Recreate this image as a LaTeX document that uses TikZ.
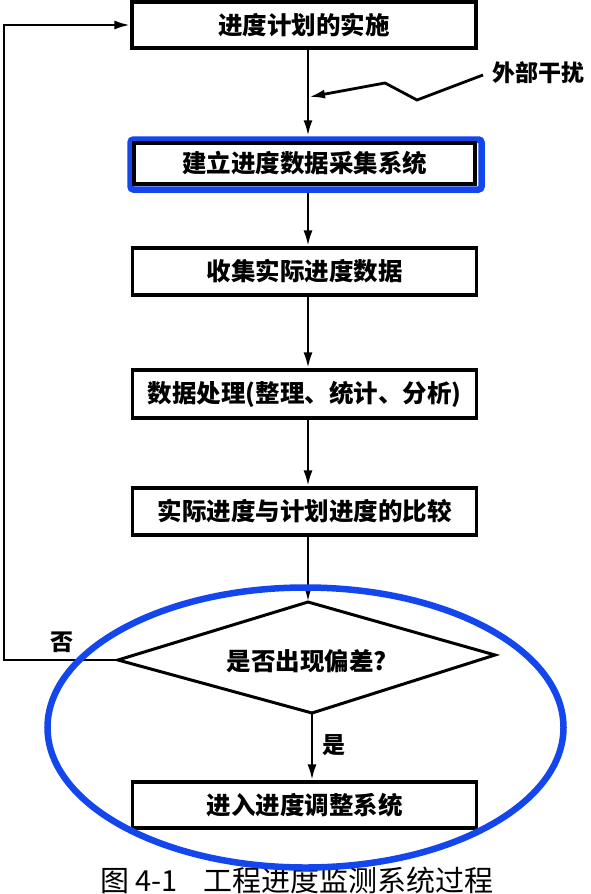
\documentclass[tikz,border=0pt]{standalone}
\usepackage{fontspec}
\setmainfont{Noto Sans CJK SC}
\usetikzlibrary{arrows.meta,shapes.geometric}
\definecolor{hlblue}{RGB}{20,70,238}
\begin{document}
\begin{tikzpicture}[x=1pt,y=-1pt,
  box/.style={draw, line width=3.2pt, minimum width=344pt, minimum height=46pt, inner sep=0pt,
    font=\bfseries\fontsize{24.5}{24.5}\selectfont},
  arr/.style={-{Latex[length=16pt,width=9pt]}, line width=2.8pt},
  lbl/.style={font=\bfseries\fontsize{23}{23}\selectfont, inner sep=0pt},
  hl/.style={draw=hlblue, line width=6.5pt}]
\useasboundingbox (0,0) rectangle (591,894);
\fill[white] (0,0) rectangle (591,894);

% boxes
\node[box] (b1) at (304,25) {进度计划的实施};
\node[hl, rounded corners=3pt, minimum width=351pt, minimum height=50pt, inner sep=0pt] (b2hl) at (306,164.5) {};
\node[box, minimum width=341pt, minimum height=41pt] (b2) at (304.5,163.5) {建立进度数据采集系统};
\node[box, minimum height=47pt] (b3) at (304.5,271.5) {收集实际进度数据};
\node[box, minimum height=48pt] (b4) at (304.5,394) {数据处理(整理、统计、分析)};
\node[box, minimum height=47pt] (b5) at (304.5,511.5) {实际进度与计划进度的比较};
\node[box] (b6) at (304.5,805) {进入进度调整系统};

% diamond
\coordinate (dT) at (308,602);
\coordinate (dR) at (495,655);
\coordinate (dB) at (312,713);
\coordinate (dL) at (118,660);
\draw[line width=3pt, line join=miter] (dT) -- (dR) -- (dB) -- (dL) -- cycle;
\node[lbl, font=\bfseries\fontsize{24.5}{24.5}\selectfont] (dq) at (307,661) {是否出现偏差?};

% vertical flow
\coordinate (vx) at (308,0);
\draw[arr] (b1.south -| vx) -- (b2hl.north -| vx);
\draw[arr] (b2hl.south -| vx) -- (b3.north -| vx);
\draw[arr] (b3.south -| vx) -- (b4.north -| vx);
\draw[arr] (b4.south -| vx) -- (b5.north -| vx);
\draw[arr] (b5.south -| vx) -- (dT);
\draw[arr] (dB) -- (dB |- b6.north);
\node[lbl] (yes) at (334,745) {是};

% feedback loop
\coordinate (fb) at (4,660);
\draw[arr] (dL) -- (fb) |- (b1.west);
\node[lbl] (no) at (62,642) {否};

% external disturbance
\node[lbl, anchor=west] (ext) at (492,73) {外部干扰};
\coordinate (z0) at (483,75);
\coordinate (z1) at (417,100);
\coordinate (z2) at (385,83);
\coordinate (zt) at (309,97);
\draw[arr, line join=miter] (z0) -- (z1) -- (z2) -- (zt);

% caption
\node[font=\fontsize{29}{29}\selectfont, anchor=west, inner sep=0pt] (cap) at (100,880) {图 4-1\hspace{26pt}工程进度监测系统过程};

% highlight ellipse
\node[hl, ellipse, minimum width=516pt, minimum height=280pt, inner sep=0pt] (hl2) at (305.5,727.5) {};
\end{tikzpicture}
\end{document}
